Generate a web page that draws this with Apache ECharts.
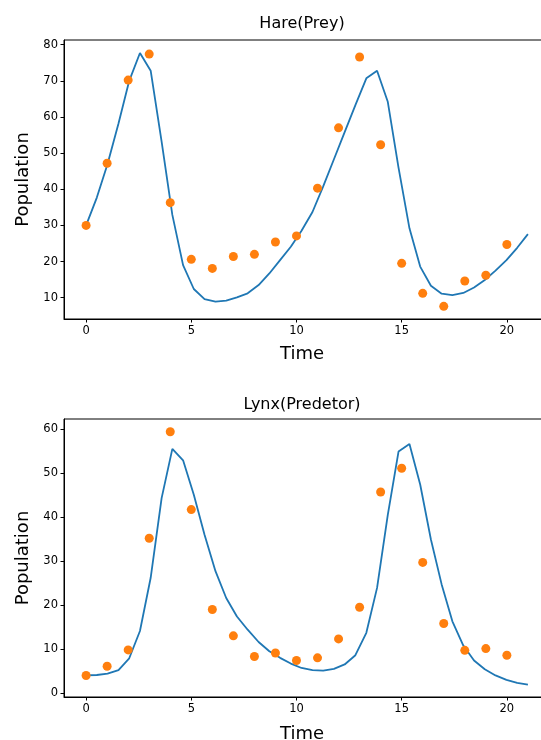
<!DOCTYPE html>
<html>
<head>
<meta charset="utf-8">
<script src="https://cdn.jsdelivr.net/npm/echarts@6/dist/echarts.min.js"></script>
<style>
html,body{margin:0;padding:0;background:#fff;}
#chart{width:541px;height:740px;}
</style>
</head>
<body>
<div id="chart"></div>
<script>
// Observed data (years since start)
var obsTime = [0,1,2,3,4,5,6,7,8,9,10,11,12,13,14,15,16,17,18,19,20];
var hareObs = [30,47.2,70.2,77.4,36.3,20.6,18.1,21.4,22,25.4,27.1,40.3,57,76.6,52.3,19.5,11.2,7.6,14.6,16.2,24.7];
var lynxObs = [4,6.1,9.8,35.2,59.4,41.7,19,13,8.3,9.1,7.4,8,12.3,19.5,45.7,51.1,29.7,15.8,9.7,10.1,8.6];

// Model curve
var modelTime = [0,0.51,1.02,1.54,2.05,2.56,3.07,3.59,4.10,4.61,5.12,5.63,6.15,6.66,7.17,7.68,8.20,8.71,9.22,9.73,10.24,10.76,11.27,11.78,12.29,12.80,13.32,13.83,14.34,14.85,15.37,15.88,16.39,16.90,17.41,17.93,18.44,18.95,19.46,19.98,20.49,21];
var hareModel = [30,37.7,47,58.2,70,77.7,72.8,53.2,32.9,19.0,12.4,9.6,8.9,9.2,10.1,11.2,13.5,16.7,20.4,24.1,28.5,33.7,40.8,48.3,55.8,63.3,70.7,72.8,64.2,46,29.2,18.6,13.3,11.1,10.7,11.3,12.8,14.9,17.5,20.4,23.8,27.6];
var lynxModel = [4.0,4.1,4.4,5.2,7.9,14.1,26.2,44.3,55.5,52.9,45.1,36.0,27.7,21.6,17.4,14.4,11.6,9.5,8.0,6.7,5.7,5.2,5.1,5.5,6.5,8.6,13.7,23.9,40.5,54.9,56.6,47.4,34.9,24.7,16.3,10.8,7.4,5.4,4.0,3.0,2.3,1.9];

// Tick labels
var xTicks = [0,5,10,15,20];
var hareTicks = [10,20,30,40,50,60,70,80];
var lynxTicks = [0,10,20,30,40,50,60];

var titles = ['Hare(Prey)','Lynx(Predetor)'];
var xLabel = 'Time';
var yLabel = 'Population';

function zip(a,b){ return a.map(function(v,i){ return [v,b[i]]; }); }

var FONT = 'DejaVu Sans';
var chart = echarts.init(document.getElementById('chart'), null, {renderer:'canvas'});

function xAxisCfg(gi){
  return {
    type:'value', gridIndex:gi, min:-1.05, max:22.05,
    axisLine:{show:true, onZero:false, lineStyle:{color:'#000', width:1}},
    axisTick:{show:true, length:3.5, customValues:xTicks, lineStyle:{color:'#000', width:1}},
    axisLabel:{show:true, customValues:xTicks, color:'#000', fontFamily:FONT, fontSize:11.5, margin:6},
    splitLine:{show:false}
  };
}
function yAxisCfg(gi, min, max, ticks){
  return {
    type:'value', gridIndex:gi, min:min, max:max,
    name: yLabel, nameLocation:'middle', nameGap:32,
    nameTextStyle:{color:'#000', fontFamily:FONT, fontSize:18},
    axisLine:{show:true, onZero:false, lineStyle:{color:'#000', width:1}},
    axisTick:{show:true, length:3.5, customValues:ticks, lineStyle:{color:'#000', width:1}},
    axisLabel:{show:true, customValues:ticks, color:'#000', fontFamily:FONT, fontSize:11.5, margin:6},
    splitLine:{show:false}
  };
}

var option = {
  backgroundColor:'#fff',
  animation:false,
  title:[
    {text:titles[0], left:297, top:11, textAlign:'center', textStyle:{color:'#000', fontFamily:FONT, fontSize:16, fontWeight:'normal'}},
    {text:titles[1], left:297, top:392, textAlign:'center', textStyle:{color:'#000', fontFamily:FONT, fontSize:16, fontWeight:'normal'}},
    {text:xLabel, left:297, top:340, textAlign:'center', textStyle:{color:'#000', fontFamily:FONT, fontSize:18, fontWeight:'normal'}},
    {text:xLabel, left:297, top:720, textAlign:'center', textStyle:{color:'#000', fontFamily:FONT, fontSize:18, fontWeight:'normal'}}
  ],
  grid:[
    {left:64, width:486, top:40, height:279, outerBoundsMode:'none', containLabel:false, show:true, borderColor:'#000', borderWidth:1, backgroundColor:'transparent'},
    {left:64, width:486, top:419, height:278, outerBoundsMode:'none', containLabel:false, show:true, borderColor:'#000', borderWidth:1, backgroundColor:'transparent'}
  ],
  xAxis:[xAxisCfg(0), xAxisCfg(1)],
  yAxis:[yAxisCfg(0, 4.1, 81.3, hareTicks), yAxisCfg(1, -0.9, 62.3, lynxTicks)],
  series:[
    {type:'line', xAxisIndex:0, yAxisIndex:0, data:zip(modelTime, hareModel), showSymbol:false, lineStyle:{color:'#1f77b4', width:1.8}, z:2},
    {type:'scatter', xAxisIndex:0, yAxisIndex:0, data:zip(obsTime, hareObs), symbolSize:9, itemStyle:{color:'#ff7f0e', opacity:1}, z:3},
    {type:'line', xAxisIndex:1, yAxisIndex:1, data:zip(modelTime, lynxModel), showSymbol:false, lineStyle:{color:'#1f77b4', width:1.8}, z:2},
    {type:'scatter', xAxisIndex:1, yAxisIndex:1, data:zip(obsTime, lynxObs), symbolSize:9, itemStyle:{color:'#ff7f0e', opacity:1}, z:3}
  ]
};
chart.setOption(option);
</script>
</body>
</html>
